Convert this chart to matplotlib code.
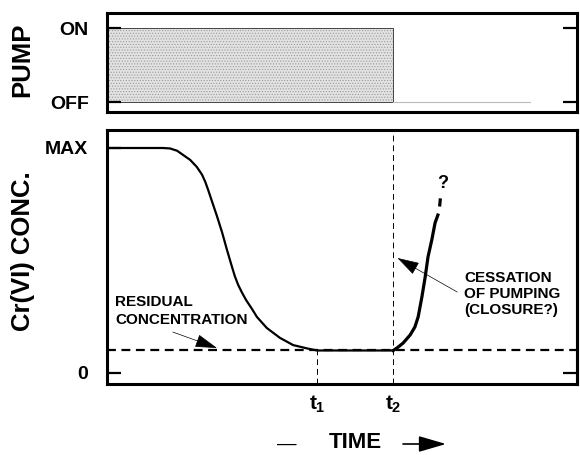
import matplotlib
matplotlib.use('Agg')
import matplotlib.pyplot as plt

plt.rcParams['font.family'] = 'Liberation Sans'
plt.rcParams['font.weight'] = 'bold'
plt.rcParams['mathtext.fontset'] = 'custom'
plt.rcParams['mathtext.rm'] = 'Liberation Sans:bold'
plt.rcParams['mathtext.it'] = 'Liberation Sans:bold'
plt.rcParams['hatch.linewidth'] = 0.5

# Data (time in arbitrary units 0-100, concentration 0-1 = MAX)
t1 = 44.7
t2 = 60.9
residual = 0.1

fall_time = [0, 9.1, 11.9, 13.4, 14.9, 16.2, 17.7, 19.1, 20.2, 20.9, 21.5, 22.3, 23.4, 24.5,
             25.5, 26.6, 27.2, 27.9, 28.7, 29.6, 30.9, 31.9, 34.0, 36.8, 39.6, 42.6, t1, t2]
fall_conc = [1.0, 1.0, 1.0, 0.998, 0.988, 0.969, 0.947, 0.916, 0.882, 0.850, 0.815, 0.765, 0.697, 0.624,
             0.549, 0.471, 0.430, 0.392, 0.358, 0.324, 0.283, 0.249, 0.200, 0.156, 0.124, 0.109, residual, residual]

rise_time = [t2, 61.7, 63.0, 64.5, 65.5, 66.2, 67.0, 67.7, 68.3, 69.1, 69.8, 70.4]
rise_conc = [residual, 0.111, 0.133, 0.169, 0.204, 0.249, 0.338, 0.427, 0.516, 0.591, 0.667, 0.702]
guess_time = [70.8, 70.9]
guess_conc = [0.747, 0.769]

pump_time = [0, t2]
pump_on = 1
pump_off = 0

fig = plt.figure(figsize=(5.8, 4.55), dpi=100)
ax1 = fig.add_axes([107/580, 1-112/455, 470/580, 99/455])
ax2 = fig.add_axes([107/580, 1-384/455, 470/580, 254/455])

for ax in (ax1, ax2):
    for s in ax.spines.values():
        s.set_linewidth(2.2)
    ax.set_xlim(0, 100)
    ax.tick_params(axis='both', direction='in', length=10, width=1.6, labelsize=14)

# Pump panel
ax1.fill_between(pump_time, pump_off, pump_on, facecolor='#e2e2e2', edgecolor='#9a9a9a',
                 hatch='......', linewidth=0)
ax1.fill_between(pump_time, pump_off, pump_on, facecolor='none', edgecolor='#444444', linewidth=0.7)
ax1.plot([t2, 90], [pump_off, pump_off], color='#bbbbbb', lw=0.8)
ax1.set_ylim(-0.135, 1.203)
ax1.set_yticks([pump_off, pump_on])
ax1.set_yticklabels(['OFF', 'ON'])
ax1.tick_params(axis='y', right=True, pad=13)
ax1.set_xticks([])

# Concentration panel
ax2.set_ylim(-0.049, 1.08)
ax2.axhline(residual, color='black', lw=1.6, dashes=(4, 2.5))
ax2.plot(fall_time, fall_conc, color='black', lw=1.6, solid_joinstyle='round')
ax2.plot(rise_time, rise_conc, color='black', lw=2.3, solid_joinstyle='round')
ax2.plot(guess_time, guess_conc, color='black', lw=2.3)
ax2.text(71.5, 0.844, '?', ha='center', va='center', fontsize=13)

ax2.axvline(t2, color='black', lw=0.7, dashes=(6, 4))
ax2.plot([t1, t1], [-0.049, residual], color='black', lw=0.7, dashes=(6, 4))

ax2.set_yticks([0, 1])
ax2.set_yticklabels(['0', 'MAX'])
ax2.tick_params(axis='y', pad=14)
sec = ax2.secondary_yaxis('right')
sec.set_yticks([0])
sec.set_yticklabels([])
sec.tick_params(direction='in', length=10, width=1.6)
sec.spines['right'].set_linewidth(2.2)

ax2.set_xticks([t1, t2])
ax2.set_xticklabels(['$t_1$', '$t_2$'])
ax2.tick_params(axis='x', length=0, pad=7, labelsize=15)

ax2.text(1.7, 0.276, 'RESIDUAL\nCONCENTRATION', ha='left', va='center',
         fontsize=11, linespacing=1.4)
ax2.annotate('', xy=(23.4, 0.111), xytext=(14.0, 0.182),
             arrowprops=dict(arrowstyle='-|>,head_length=1.0,head_width=0.3',
                             mutation_scale=14, lw=0.5, color='black', shrinkA=0, shrinkB=0))
ax2.text(76.0, 0.351, 'CESSATION\nOF PUMPING\n(CLOSURE?)', ha='left', va='center',
         fontsize=11, linespacing=1.2)
ax2.annotate('', xy=(61.8, 0.511), xytext=(74.5, 0.36),
             arrowprops=dict(arrowstyle='-|>,head_length=1.0,head_width=0.3',
                             mutation_scale=14, lw=0.5, color='black', shrinkA=0, shrinkB=0))

# Axis titles
fig.text(22/580, 1-60/455, 'PUMP', rotation=90, ha='center', va='center', fontsize=18.5)
fig.text(23/580, 1-251/455, 'Cr(VI) CONC.', rotation=90, ha='center', va='center', fontsize=18.5)
fig.text(355/580, 1-443/455, 'TIME', ha='center', va='center', fontsize=16)
fig.text(287/580, 1-444/455, '—', ha='center', va='center', fontsize=14, fontweight='normal')
fig.add_artist(matplotlib.patches.FancyArrowPatch(
    (403/580, 1-444/455), (446/580, 1-444/455), transform=fig.transFigure,
    arrowstyle='-|>,head_length=1.2,head_width=0.35', mutation_scale=14,
    lw=1.2, color='black', shrinkA=0, shrinkB=0))

fig.savefig('out.png', dpi=100)
